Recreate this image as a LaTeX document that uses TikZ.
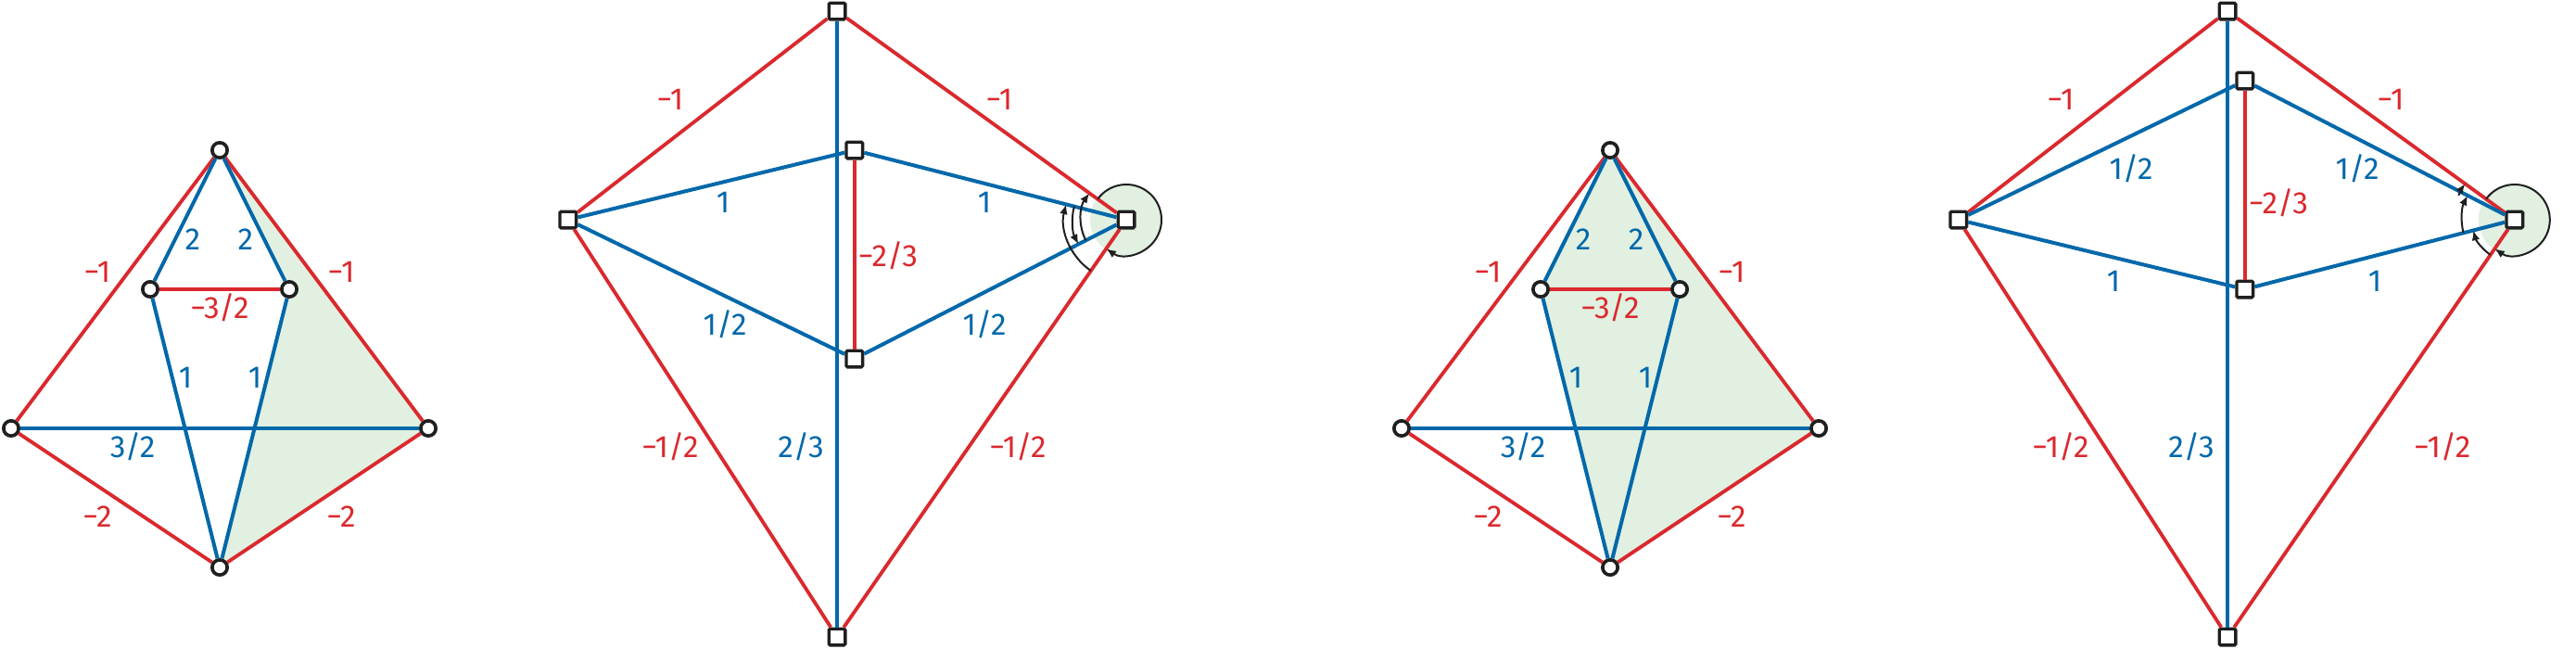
\documentclass[tikz,border=0pt]{standalone}
\usepackage{fontspec}
\setmainfont{Fira Sans}
\usetikzlibrary{arrows.meta,backgrounds}
\definecolor{edgered}{RGB}{218,41,46}
\definecolor{edgeblue}{RGB}{0,104,170}
\definecolor{facegreen}{RGB}{225,240,224}
\tikzset{
	vtx/.style={circle,draw=black!88,fill=white,line width=1.1pt,inner sep=0pt,minimum size=4.9pt},
	fc/.style={rectangle,draw=black!88,fill=white,line width=1pt,inner sep=0pt,minimum size=5.3pt,rounded corners=0.4pt},
	redge/.style={edgered,line width=1.15pt},
	bedge/.style={edgeblue,line width=1.2pt},
	rlab/.style={text=edgered,inner sep=0pt,text height=6.9pt,text depth=0pt},
	blab/.style={text=edgeblue,inner sep=0pt,text height=6.9pt,text depth=0pt},
	turn/.style={black!88,line width=0.6pt,-{Latex[length=3.2pt,width=2.6pt]}}
}
\begin{document}
\begin{tikzpicture}[x=22.5pt,y=22.5pt,font=\fontsize{10}{12}\selectfont]
	\useasboundingbox (0,0) rectangle (37.053,9.32);

	% first graph, right face shaded
	\begin{scope}[shift={(0.16,1.16)}]
	\node at (3,6) [vtx] (a1) {};
	\node at (2,4) [vtx] (b1) {};
	\node at (4,4) [vtx] (c1) {};
	\node at (0,2) [vtx] (d1) {};
	\node at (6,2) [vtx] (e1) {};
	\node at (3,0) [vtx] (f1) {};
	\begin{scope}[on background layer]
		\fill[facegreen] (a1.center) -- (e1.center) -- (f1.center) -- (c1.center) -- cycle;
	\end{scope}
	\draw[redge] (a1) -- (d1);
	\draw[redge] (a1) -- (e1);
	\draw[redge] (b1) -- (c1);
	\draw[redge] (d1) -- (f1);
	\draw[redge] (e1) -- (f1);
	\draw[bedge] (a1) -- (b1);
	\draw[bedge] (a1) -- (c1);
	\draw[bedge] (b1) -- (f1);
	\draw[bedge] (c1) -- (f1);
	\draw[bedge] (d1) -- (e1);
	\node at (2.613,4.72) [blab] (w1ab) {2};
	\node at (3.373,4.72) [blab] (w1ac) {2};
	\node at (1.24,4.253) [rlab] (w1ad) {−1};
	\node at (4.747,4.253) [rlab] (w1ae) {−1};
	\node at (3.0,3.733) [rlab] (w1bc) {−3/2};
	\node at (2.507,2.733) [blab] (w1bf) {1};
	\node at (3.507,2.733) [blab] (w1cf) {1};
	\node at (1.747,1.733) [blab] (w1de) {3/2};
	\node at (1.24,0.733) [rlab] (w1df) {−2};
	\node at (4.747,0.733) [rlab] (w1ef) {−2};
	\end{scope}

	% dual of the first graph
	\begin{scope}[shift={(12.04,1.16)}]
	\node at (0,8) [fc] (t2) {};
	\node at (0.25,6) [fc] (a2) {};
	\node at (0.25,3) [fc] (b2) {};
	\node at (-3.87,5) [fc] (l2) {};
	\node at (4.16,5) [fc] (r2) {};
	\node at (0,-1) [fc] (d2) {};
	\begin{scope}[on background layer]
		\fill[facegreen] (r2.center) circle[radius=11.7pt];
	\end{scope}
	\draw[redge] (t2) -- (l2);
	\draw[redge] (t2) -- (r2);
	\draw[redge] (l2) -- (d2);
	\draw[redge] (r2) -- (d2);
	\draw[redge] (a2) -- (b2);
	\draw[bedge,line width=0.95pt] (t2) -- (d2);
	\draw[bedge] (l2) -- (a2);
	\draw[bedge] (a2) -- (r2);
	\draw[bedge] (l2) -- (b2);
	\draw[bedge] (b2) -- (r2);
	\node at (-2.4,6.733) [rlab] (w2tl) {−1};
	\node at (2.333,6.733) [rlab] (w2tr) {−1};
	\node at (-1.64,5.253) [blab] (w2la) {1};
	\node at (2.12,5.253) [blab] (w2ar) {1};
	\node at (0.733,4.48) [rlab] (w2ab) {−2/3};
	\node at (-1.613,3.493) [blab] (w2lb) {1/2};
	\node at (2.12,3.493) [blab] (w2br) {1/2};
	\node at (-2.4,1.733) [rlab] (w2ld) {−1/2};
	\node at (-0.52,1.733) [blab] (w2td) {2/3};
	\node at (2.6,1.733) [rlab] (w2rd) {−1/2};
	% turning around the shaded face
	\draw[turn] ([shift={(235.26:20.1pt)}]r2.center) arc[start angle=235.26,end angle=165.65,radius=20.1pt];
	\draw[turn] ([shift={(165.65:17.4pt)}]r2.center) arc[start angle=165.65,end angle=207.09,radius=17.4pt];
	\draw[turn] ([shift={(207.09:14.7pt)}]r2.center) arc[start angle=207.09,end angle=144.2,radius=14.7pt];
	\draw[turn] ([shift={(144.2:11.4pt)}]r2.center) arc[start angle=144.2,end angle=-124.74,radius=11.4pt];
	\end{scope}

	% second graph, two faces shaded
	\begin{scope}[shift={(20.16,1.16)}]
	\node at (3,6) [vtx] (a3) {};
	\node at (2,4) [vtx] (b3) {};
	\node at (4,4) [vtx] (c3) {};
	\node at (0,2) [vtx] (d3) {};
	\node at (6,2) [vtx] (e3) {};
	\node at (3,0) [vtx] (f3) {};
	\begin{scope}[on background layer]
		\fill[facegreen] (a3.center) -- (e3.center) -- (f3.center) -- (b3.center) -- cycle;
	\end{scope}
	\draw[redge] (a3) -- (d3);
	\draw[redge] (a3) -- (e3);
	\draw[redge] (b3) -- (c3);
	\draw[redge] (d3) -- (f3);
	\draw[redge] (e3) -- (f3);
	\draw[bedge] (a3) -- (b3);
	\draw[bedge] (a3) -- (c3);
	\draw[bedge] (b3) -- (f3);
	\draw[bedge] (c3) -- (f3);
	\draw[bedge] (d3) -- (e3);
	\node at (2.613,4.72) [blab] (w3ab) {2};
	\node at (3.373,4.72) [blab] (w3ac) {2};
	\node at (1.24,4.253) [rlab] (w3ad) {−1};
	\node at (4.747,4.253) [rlab] (w3ae) {−1};
	\node at (3.0,3.733) [rlab] (w3bc) {−3/2};
	\node at (2.507,2.733) [blab] (w3bf) {1};
	\node at (3.507,2.733) [blab] (w3cf) {1};
	\node at (1.747,1.733) [blab] (w3de) {3/2};
	\node at (1.24,0.733) [rlab] (w3df) {−2};
	\node at (4.747,0.733) [rlab] (w3ef) {−2};
	\end{scope}

	% dual of the second graph
	\begin{scope}[shift={(32.04,1.16)}]
	\node at (0,8) [fc] (t4) {};
	\node at (0.25,7) [fc] (a4) {};
	\node at (0.25,4) [fc] (b4) {};
	\node at (-3.87,5) [fc] (l4) {};
	\node at (4.13,5) [fc] (r4) {};
	\node at (0,-1) [fc] (d4) {};
	\begin{scope}[on background layer]
		\fill[facegreen] (r4.center) circle[radius=11.7pt];
	\end{scope}
	\draw[redge] (t4) -- (l4);
	\draw[redge] (t4) -- (r4);
	\draw[redge] (l4) -- (d4);
	\draw[redge] (r4) -- (d4);
	\draw[redge] (a4) -- (b4);
	\draw[bedge,line width=0.95pt] (t4) -- (d4);
	\draw[bedge] (l4) -- (a4);
	\draw[bedge] (a4) -- (r4);
	\draw[bedge] (l4) -- (b4);
	\draw[bedge] (b4) -- (r4);
	\node at (-2.4,6.733) [rlab] (w4tl) {−1};
	\node at (2.347,6.733) [rlab] (w4tr) {−1};
	\node at (-1.387,5.733) [blab] (w4la) {1/2};
	\node at (1.867,5.733) [blab] (w4ar) {1/2};
	\node at (0.733,5.24) [rlab] (w4ab) {−2/3};
	\node at (-1.64,4.12) [blab] (w4lb) {1};
	\node at (2.12,4.12) [blab] (w4br) {1};
	\node at (-2.4,1.733) [rlab] (w4ld) {−1/2};
	\node at (-0.52,1.733) [blab] (w4td) {2/3};
	\node at (3.09,1.733) [rlab] (w4rd) {−1/2};
	% turning around the shaded face
	\draw[turn] ([shift={(235.46:13.8pt)}]r4.center) arc[start angle=235.46,end angle=194.45,radius=13.8pt];
	\draw[turn] ([shift={(194.45:17.1pt)}]r4.center) arc[start angle=194.45,end angle=152.73,radius=17.1pt];
	\draw[turn] ([shift={(156.5:19.8pt)}]r4.center) arc[start angle=156.5,end angle=144.0,radius=19.8pt];
	\draw[turn] ([shift={(144.0:11.4pt)}]r4.center) arc[start angle=144.0,end angle=-124.54,radius=11.4pt];
	\end{scope}
\end{tikzpicture}
\end{document}
